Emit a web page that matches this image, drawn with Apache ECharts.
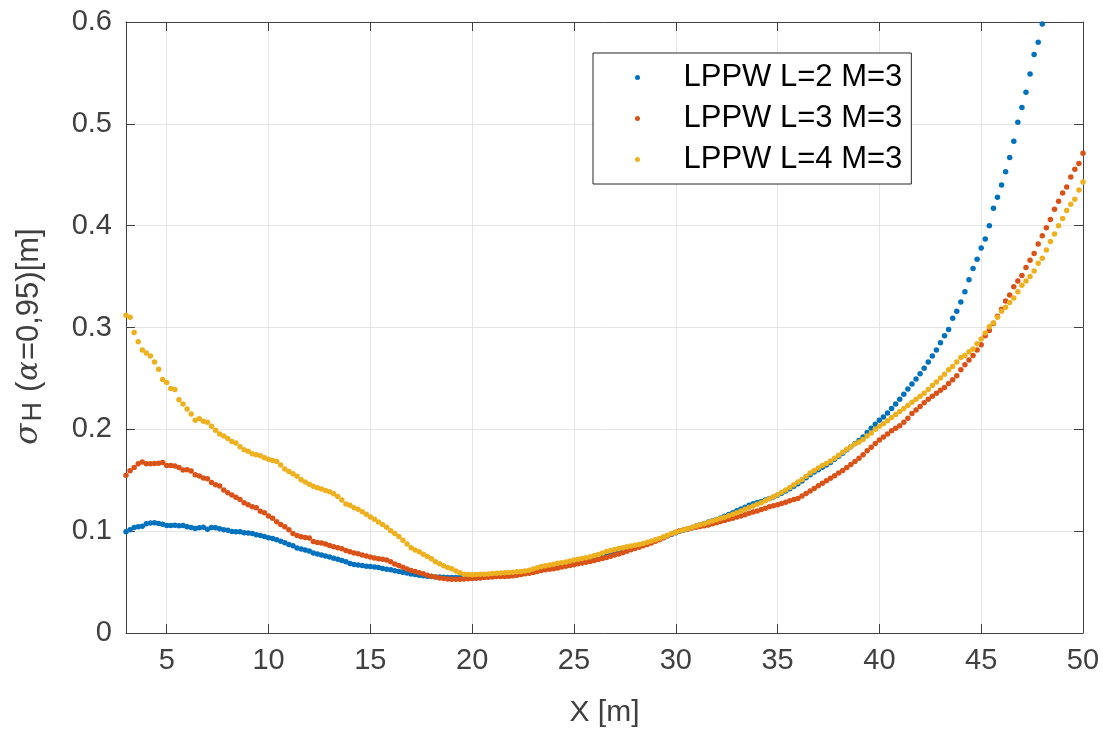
<!DOCTYPE html>
<html>
<head>
<meta charset="utf-8">
<script src="https://cdn.jsdelivr.net/npm/echarts@6/dist/echarts.min.js"></script>
<style>
  html, body { margin: 0; padding: 0; background: #ffffff; }
  #chart { width: 1103px; height: 733px; }
</style>
</head>
<body>
<div id="chart"></div>
<script>
// Sampling grid of the X positions (m): first value and step
const X_START = 3.0;
const X_STEP = 0.2;

const SERIES_NAMES = ['LPPW L=2 M=3', 'LPPW L=3 M=3', 'LPPW L=4 M=3'];
const X_TICKS = [5, 10, 15, 20, 25, 30, 35, 40, 45, 50];
const Y_TICKS = [0, 0.1, 0.2, 0.3, 0.4, 0.5, 0.6];

// LPPW L=2 M=3 (values from x = 3.0 in 0.2 m steps; leaves the axes above x = 48)
const L2 = [
  0.0994, 0.1013, 0.1036, 0.1043, 0.1049, 0.1072, 0.1079, 0.1082, 0.1075, 0.1069,
  0.1056, 0.1056, 0.1059, 0.1053, 0.1056, 0.1043, 0.1036, 0.1026, 0.1033, 0.1039,
  0.1020, 0.1036, 0.1033, 0.1023, 0.1013, 0.1010, 0.0997, 0.0994, 0.0994, 0.0984,
  0.0981, 0.0977, 0.0964, 0.0958, 0.0948, 0.0935, 0.0928, 0.0915, 0.0902, 0.0886,
  0.0870, 0.0856, 0.0834, 0.0824, 0.0815, 0.0805, 0.0785, 0.0775, 0.0766, 0.0756,
  0.0746, 0.0733, 0.0723, 0.0712, 0.0700, 0.0683, 0.0673, 0.0668, 0.0662, 0.0656,
  0.0653, 0.0647, 0.0642, 0.0634, 0.0626, 0.0620, 0.0611, 0.0604, 0.0597, 0.0588,
  0.0580, 0.0574, 0.0568, 0.0562, 0.0557, 0.0554, 0.0551, 0.0549, 0.0547, 0.0546,
  0.0545, 0.0544, 0.0544, 0.0546, 0.0548, 0.0550, 0.0552, 0.0555, 0.0558, 0.0561,
  0.0565, 0.0569, 0.0572, 0.0574, 0.0576, 0.0579, 0.0584, 0.0590, 0.0596, 0.0602,
  0.0610, 0.0620, 0.0631, 0.0640, 0.0648, 0.0656, 0.0664, 0.0672, 0.0680, 0.0690,
  0.0698, 0.0706, 0.0714, 0.0722, 0.0731, 0.0742, 0.0754, 0.0767, 0.0780, 0.0792,
  0.0804, 0.0816, 0.0827, 0.0838, 0.0847, 0.0855, 0.0863, 0.0872, 0.0883, 0.0895,
  0.0908, 0.0922, 0.0938, 0.0954, 0.0970, 0.0984, 0.0998, 0.1011, 0.1024, 0.1037,
  0.1050, 0.1063, 0.1076, 0.1089, 0.1102, 0.1115, 0.1130, 0.1146, 0.1163, 0.1182,
  0.1200, 0.1218, 0.1236, 0.1255, 0.1270, 0.1282, 0.1292, 0.1305, 0.1320, 0.1336,
  0.1352, 0.1372, 0.1394, 0.1417, 0.1440, 0.1466, 0.1493, 0.1525, 0.1555, 0.1580,
  0.1603, 0.1627, 0.1650, 0.1675, 0.1705, 0.1735, 0.1765, 0.1800, 0.1830, 0.1860,
  0.1890, 0.1925, 0.1970, 0.2010, 0.2050, 0.2090, 0.2120, 0.2160, 0.2205, 0.2250,
  0.2295, 0.2345, 0.2395, 0.2445, 0.2495, 0.2545, 0.2600, 0.2660, 0.2720, 0.2780,
  0.2850, 0.2920, 0.2980, 0.3090, 0.3160, 0.3250, 0.3350, 0.3470, 0.3580, 0.3670,
  0.3780, 0.3870, 0.4000, 0.4170, 0.4280, 0.4400, 0.4530, 0.4670, 0.4830, 0.5015,
  0.5160, 0.5310, 0.5490, 0.5680, 0.5800, 0.5980
];

// LPPW L=3 M=3
const L3 = [
  0.1548, 0.1593, 0.1626, 0.1662, 0.1678, 0.1662, 0.1662, 0.1665, 0.1668, 0.1675,
  0.1645, 0.1645, 0.1639, 0.1626, 0.1600, 0.1603, 0.1590, 0.1554, 0.1541, 0.1522,
  0.1515, 0.1479, 0.1457, 0.1444, 0.1405, 0.1378, 0.1355, 0.1332, 0.1310, 0.1280,
  0.1260, 0.1240, 0.1229, 0.1196, 0.1180, 0.1150, 0.1127, 0.1092, 0.1066, 0.1043,
  0.1013, 0.0977, 0.0958, 0.0945, 0.0938, 0.0932, 0.0899, 0.0889, 0.0883, 0.0873,
  0.0860, 0.0848, 0.0836, 0.0828, 0.0810, 0.0797, 0.0786, 0.0778, 0.0767, 0.0757,
  0.0746, 0.0736, 0.0730, 0.0725, 0.0717, 0.0700, 0.0678, 0.0662, 0.0645, 0.0628,
  0.0614, 0.0603, 0.0592, 0.0581, 0.0568, 0.0557, 0.0549, 0.0541, 0.0535, 0.0530,
  0.0528, 0.0527, 0.0528, 0.0530, 0.0533, 0.0535, 0.0538, 0.0540, 0.0544, 0.0548,
  0.0551, 0.0554, 0.0555, 0.0556, 0.0558, 0.0562, 0.0568, 0.0575, 0.0581, 0.0587,
  0.0595, 0.0604, 0.0613, 0.0620, 0.0626, 0.0632, 0.0639, 0.0647, 0.0655, 0.0663,
  0.0671, 0.0679, 0.0687, 0.0695, 0.0703, 0.0712, 0.0721, 0.0731, 0.0741, 0.0753,
  0.0765, 0.0777, 0.0789, 0.0803, 0.0817, 0.0830, 0.0843, 0.0857, 0.0870, 0.0885,
  0.0900, 0.0915, 0.0935, 0.0955, 0.0975, 0.0990, 0.1003, 0.1013, 0.1022, 0.1030,
  0.1038, 0.1045, 0.1052, 0.1060, 0.1072, 0.1083, 0.1095, 0.1105, 0.1117, 0.1128,
  0.1140, 0.1150, 0.1162, 0.1175, 0.1187, 0.1199, 0.1212, 0.1225, 0.1240, 0.1250,
  0.1260, 0.1272, 0.1285, 0.1298, 0.1310, 0.1322, 0.1345, 0.1370, 0.1395, 0.1420,
  0.1445, 0.1470, 0.1495, 0.1520, 0.1545, 0.1570, 0.1595, 0.1625, 0.1655, 0.1685,
  0.1715, 0.1750, 0.1790, 0.1825, 0.1860, 0.1895, 0.1925, 0.1955, 0.1985, 0.2010,
  0.2035, 0.2070, 0.2110, 0.2155, 0.2190, 0.2225, 0.2260, 0.2295, 0.2325, 0.2355,
  0.2385, 0.2411, 0.2450, 0.2486, 0.2525, 0.2584, 0.2633, 0.2680, 0.2724, 0.2780,
  0.2830, 0.2920, 0.2970, 0.3040, 0.3110, 0.3180, 0.3260, 0.3320, 0.3400, 0.3457,
  0.3510, 0.3590, 0.3660, 0.3727, 0.3820, 0.3900, 0.3980, 0.4060, 0.4160, 0.4240,
  0.4320, 0.4380, 0.4477, 0.4555, 0.4610, 0.4710
];

// LPPW L=4 M=3
const L4 = [
  0.3120, 0.3100, 0.2950, 0.2860, 0.2780, 0.2750, 0.2720, 0.2660, 0.2590, 0.2490,
  0.2460, 0.2400, 0.2390, 0.2290, 0.2250, 0.2200, 0.2150, 0.2090, 0.2105, 0.2080,
  0.2070, 0.2030, 0.1990, 0.1955, 0.1935, 0.1910, 0.1880, 0.1865, 0.1830, 0.1800,
  0.1785, 0.1760, 0.1750, 0.1740, 0.1720, 0.1705, 0.1695, 0.1685, 0.1650, 0.1610,
  0.1587, 0.1564, 0.1540, 0.1505, 0.1483, 0.1460, 0.1440, 0.1427, 0.1414, 0.1400,
  0.1388, 0.1368, 0.1340, 0.1305, 0.1268, 0.1255, 0.1230, 0.1215, 0.1190, 0.1165,
  0.1140, 0.1118, 0.1090, 0.1065, 0.1038, 0.1005, 0.0978, 0.0948, 0.0912, 0.0873,
  0.0838, 0.0816, 0.0797, 0.0774, 0.0751, 0.0728, 0.0700, 0.0679, 0.0661, 0.0644,
  0.0630, 0.0610, 0.0592, 0.0578, 0.0574, 0.0573, 0.0574, 0.0576, 0.0578, 0.0580,
  0.0584, 0.0587, 0.0590, 0.0592, 0.0594, 0.0597, 0.0601, 0.0605, 0.0610, 0.0617,
  0.0628, 0.0640, 0.0652, 0.0660, 0.0667, 0.0675, 0.0684, 0.0690, 0.0697, 0.0707,
  0.0717, 0.0723, 0.0731, 0.0740, 0.0749, 0.0760, 0.0772, 0.0786, 0.0800, 0.0810,
  0.0820, 0.0830, 0.0838, 0.0847, 0.0855, 0.0862, 0.0870, 0.0880, 0.0892, 0.0904,
  0.0915, 0.0928, 0.0945, 0.0960, 0.0976, 0.0990, 0.1002, 0.1014, 0.1026, 0.1038,
  0.1050, 0.1062, 0.1074, 0.1087, 0.1100, 0.1112, 0.1124, 0.1136, 0.1152, 0.1166,
  0.1182, 0.1199, 0.1215, 0.1232, 0.1248, 0.1264, 0.1280, 0.1298, 0.1318, 0.1338,
  0.1358, 0.1382, 0.1405, 0.1430, 0.1455, 0.1482, 0.1508, 0.1540, 0.1570, 0.1595,
  0.1620, 0.1645, 0.1665, 0.1690, 0.1715, 0.1745, 0.1775, 0.1805, 0.1830, 0.1855,
  0.1875, 0.1900, 0.1935, 0.1965, 0.2000, 0.2030, 0.2055, 0.2085, 0.2115, 0.2145,
  0.2175, 0.2205, 0.2235, 0.2265, 0.2295, 0.2325, 0.2355, 0.2390, 0.2430, 0.2465,
  0.2505, 0.2540, 0.2584, 0.2617, 0.2660, 0.2705, 0.2724, 0.2763, 0.2790, 0.2840,
  0.2887, 0.2946, 0.3008, 0.3047, 0.3100, 0.3160, 0.3200, 0.3245, 0.3290, 0.3350,
  0.3415, 0.3457, 0.3500, 0.3555, 0.3630, 0.3680, 0.3760, 0.3845, 0.3917, 0.4000,
  0.4070, 0.4150, 0.4210, 0.4260, 0.4350, 0.4430
];

const COLORS = ['#0072BD', '#D95319', '#EDB120'];
const FONT = '"Liberation Sans", Arial, Helvetica, sans-serif';
const AXIS_COLOR = '#404040';
const LABEL_COLOR = '#404040';

function toPairs(values) {
  return values.map((v, i) => [+(X_START + i * X_STEP).toFixed(1), v]);
}

const chart = echarts.init(document.getElementById('chart'), null, { renderer: 'canvas' });

const option = {
  animation: false,
  backgroundColor: '#ffffff',
  grid: { left: 124, right: 20, top: 22, bottom: 97, containLabel: false },
  legend: {
    orient: 'vertical',
    left: 593,
    top: 53,
    padding: [4, 9, 4, 42],
    itemGap: 0,
    itemWidth: 82,
    itemHeight: 5,
    icon: 'circle',
    backgroundColor: '#ffffff',
    borderColor: '#262626',
    borderWidth: 1,
    borderRadius: 0,
    selectedMode: false,
    textStyle: { fontFamily: FONT, fontSize: 31, color: '#000000', lineHeight: 41 },
    data: SERIES_NAMES
  },
  xAxis: [
    {
      type: 'value', position: 'bottom', min: 3, max: 50,
      name: 'X [m]', nameLocation: 'middle', nameGap: 65,
      nameTextStyle: { fontFamily: FONT, fontSize: 30, color: LABEL_COLOR },
      axisLine: { show: true, onZero: false, lineStyle: { color: AXIS_COLOR, width: 1 } },
      axisTick: { show: true, inside: true, length: 9, customValues: X_TICKS, lineStyle: { color: AXIS_COLOR } },
      axisLabel: { show: true, customValues: X_TICKS, margin: 13, fontFamily: FONT, fontSize: 29, color: LABEL_COLOR },
      splitLine: { show: true, lineStyle: { color: '#e5e5e5', width: 1 } }
    },
    {
      type: 'value', position: 'top', min: 3, max: 50,
      axisLine: { show: true, onZero: false, lineStyle: { color: AXIS_COLOR, width: 1 } },
      axisTick: { show: true, inside: true, length: 9, customValues: X_TICKS, lineStyle: { color: AXIS_COLOR } },
      axisLabel: { show: false },
      splitLine: { show: false }
    }
  ],
  yAxis: [
    {
      type: 'value', position: 'left', min: Y_TICKS[0], max: Y_TICKS[Y_TICKS.length - 1], interval: 0.1,
      name: '{s|σ}{h|H}{t|(}{a|α}{u|=0,95)[m]}',
      nameLocation: 'middle', nameGap: 79, nameRotate: 90,
      nameTextStyle: {
        color: LABEL_COLOR,
        rich: {
          s: { fontFamily: '"DejaVu Serif", serif', fontStyle: 'italic', fontSize: 31, color: LABEL_COLOR, lineHeight: 36, verticalAlign: 'middle' },
          h: { fontFamily: FONT, fontSize: 27, color: LABEL_COLOR, lineHeight: 36, verticalAlign: 'bottom', padding: [12, 10, 0, 2] },
          t: { fontFamily: FONT, fontSize: 31, color: LABEL_COLOR, lineHeight: 36 },
          u: { fontFamily: FONT, fontSize: 31, color: LABEL_COLOR, lineHeight: 36, padding: [0, 18, 0, 0] },
          a: { fontFamily: '"DejaVu Serif", serif', fontStyle: 'italic', fontSize: 29, color: LABEL_COLOR, lineHeight: 36, padding: [0, 1, 0, 1] }
        }
      },
      axisLine: { show: true, onZero: false, lineStyle: { color: AXIS_COLOR, width: 1 } },
      axisTick: { show: true, inside: true, length: 9, lineStyle: { color: AXIS_COLOR } },
      axisLabel: { show: true, margin: 14, fontFamily: FONT, fontSize: 29, color: LABEL_COLOR },
      splitLine: { show: true, lineStyle: { color: '#e5e5e5', width: 1 } }
    },
    {
      type: 'value', position: 'right', min: Y_TICKS[0], max: Y_TICKS[Y_TICKS.length - 1], interval: 0.1,
      axisLine: { show: true, onZero: false, lineStyle: { color: AXIS_COLOR, width: 1 } },
      axisTick: { show: true, inside: true, length: 9, lineStyle: { color: AXIS_COLOR } },
      axisLabel: { show: false },
      splitLine: { show: false }
    }
  ],
  series: [L2, L3, L4].map((vals, k) => ({
    name: SERIES_NAMES[k],
    type: 'scatter',
    xAxisIndex: 0,
    yAxisIndex: 0,
    symbol: 'circle',
    symbolSize: 5.5,
    clip: true,
    itemStyle: { color: COLORS[k], opacity: 1 },
    emphasis: { disabled: true },
    data: toPairs(vals)
  }))
};

chart.setOption(option);
</script>
</body>
</html>
